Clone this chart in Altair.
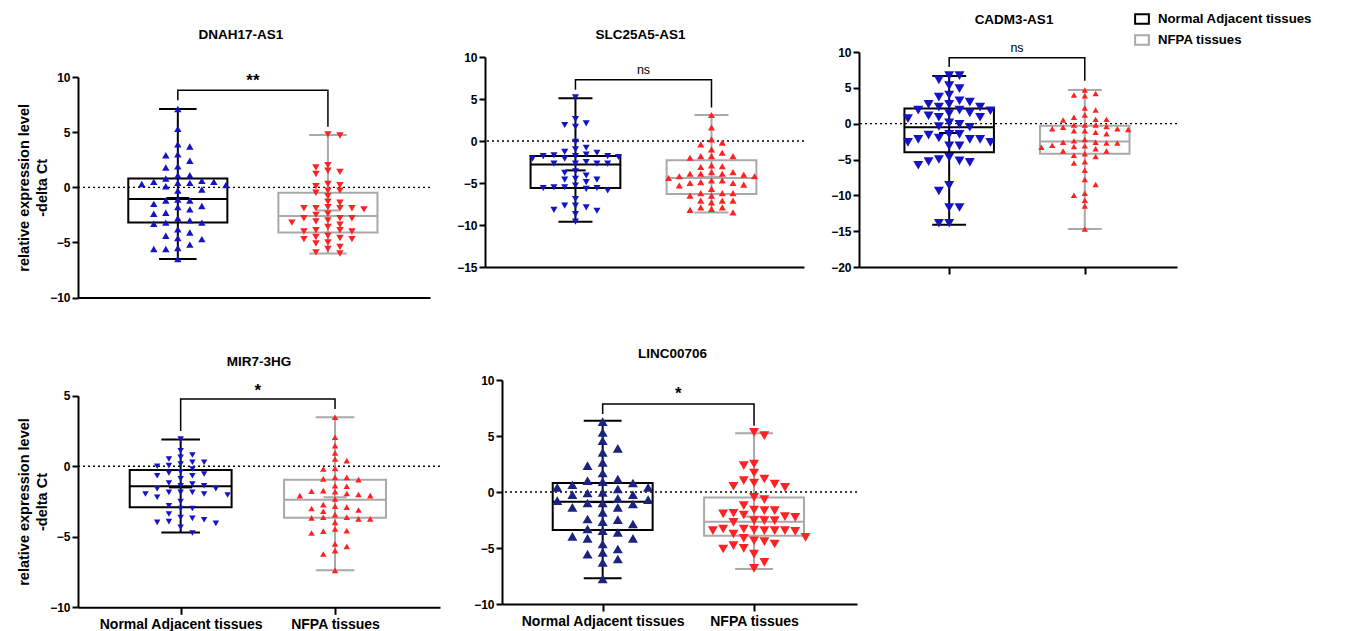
import altair as alt
import pandas as pd

GROUPS = ["Normal Adjacent tissues", "NFPA tissues"]
FONT = "Liberation Sans"

# ---------------- DNAH17-AS1 ----------------
dnah_title = "DNAH17-AS1"
dnah_normal = [7.1, 5.3, 2.9, 1.9, 0.8, 0.2, -1.1, -2.0, -3.0, -3.8, -4.6, -5.6, -6.5, 3.9, 3.7, 3.0,
               2.4, 1.8, 1.1, 1.1, 0.5, 0.6, 0.4, 0.4, 0.5, 0.3, 0.1, -0.2, -0.3, -1.2, -1.2, -1.5,
               -1.8, -1.7, -2.3, -2.4, -2.8, -3.3, -3.2, -3.2, -4.1, -4.4, -4.7, -5.2, -5.5, -5.6]
dnah_nfpa = [4.7, 4.8, 1.8, 2.0, 1.2, 1.4, 1.5, 0.2, 0.3, 0.1, -0.5, -0.3, -0.3, -0.8, -1.3, -1.9,
             -1.9, -2.0, -1.4, -1.9, -1.8, -1.9, -2.5, -2.4, -2.8, -2.8, -2.8, -3.0, -3.2, -3.1, -3.6,
             -3.4, -3.9, -3.9, -4.0, -4.0, -4.4, -4.5, -4.6, -4.7, -5.1, -5.0, -4.7, -5.4, -5.6, -5.9, -6.0]
dnah_box_normal = [-6.5, -3.2, -1.05, 0.8, 7.1]      # min, q1, median, q3, max
dnah_box_nfpa = [-6.0, -4.1, -2.6, -0.5, 4.75]
dnah_mean = [-0.97, -2.1]
dnah_bracket = [8.8, 7.9, 5.5]                         # bar, left end, right end
dnah_sig = "**"
dnah_sig_y = 9.6
dnah_ydomain = [-10, 10]
dnah_yticks = [10, 5, 0, -5, -10]

# ---------------- SLC25A5-AS1 ----------------
slc_title = "SLC25A5-AS1"
slc_normal = [5.2, 2.6, 1.7, -0.1, -0.8, -1.8, -2.7, -3.8, -4.6, -5.6, -6.9, -7.7, -8.7, -9.6, 1.9,
              2.1, -1.4, -2.1, -1.6, -1.0, -1.8, -2.1, -1.7, -1.3, -1.9, -1.8, -2.5, -2.7, -2.7, -2.7,
              -4.1, -4.5, -4.6, -3.6, -4.9, -5.6, -5.5, -5.9, -5.3, -5.7, -5.5, -8.2, -7.7, -8.3, -7.9]
slc_nfpa = [3.1, 1.6, -0.4, -1.4, -3.0, -3.7, -4.7, -5.3, -6.2, -7.1, -8.1, 0.2, -0.2, -1.0, -1.8,
            -1.8, -2.0, -1.8, -2.9, -3.1, -3.9, -3.7, -3.9, -4.0, -4.2, -4.4, -4.2, -3.9, -4.7, -5.2,
            -5.0, -5.0, -4.9, -5.7, -6.5, -6.2, -6.2, -6.5, -7.1, -7.1, -7.3, -8.2, -7.9, -7.9, -8.5]
slc_box_normal = [-9.6, -5.6, -2.8, -1.8, 5.1]
slc_box_nfpa = [-8.5, -6.3, -4.4, -2.3, 3.1]
slc_mean = [-3.5, -4.3]
slc_bracket = [7.3, 6.1, 4.0]
slc_sig = "ns"
slc_sig_y = 8.4
slc_ydomain = [-15, 10]
slc_yticks = [10, 5, 0, -5, -10, -15]

# ---------------- CADM3-AS1 ----------------
cadm_title = "CADM3-AS1"
cadm_normal = [6.7, 4.9, 2.7, 1.4, -0.1, -1.5, -3.1, -5.3, -9.4, -11.7, -11.7, -13.9, -13.9, 6.7,
               6.1, 5.3, 4.0, 3.7, 3.2, 3.0, 2.3, 2.7, 2.3, 1.9, 1.8, 1.9, 1.5, 1.1, 0.9, 0.9, 0.7,
               -0.5, -0.4, 0.1, -1.5, -2.6, -2.2, -2.2, -2.0, -1.6, -3.1, -2.6, -2.2, -5.0, -4.7,
               -5.8, -5.4, -5.2, -8.6]
cadm_nfpa = [4.2, 4.0, 4.7, 3.9, 2.2, 1.9, 1.2, 0.5, 0.6, 0.9, 0.6, -0.2, -0.5, -0.4, -0.2, -0.2,
             -1.0, -0.8, -0.7, -0.7, -1.2, -1.0, -1.4, -2.6, -2.2, -2.4, -2.6, -2.7, -2.7, -3.2,
             -3.3, -3.1, -3.0, -3.5, -3.8, -3.8, -4.2, -4.4, -4.6, -5.5, -5.3, -6.5, -7.8, -8.5,
             -9.7, -10.0, -10.7, -11.5, -14.7]
cadm_box_normal = [-14.1, -4.0, -0.5, 2.1, 6.65]
cadm_box_nfpa = [-14.7, -4.2, -2.5, -0.3, 4.7]
cadm_mean = [-1.3, -2.4]
cadm_bracket = [9.2, 7.9, 6.0]
cadm_sig = "ns"
cadm_sig_y = 10.5
cadm_ydomain = [-20, 10]
cadm_yticks = [10, 5, 0, -5, -10, -15, -20]

# ---------------- MIR7-3HG ----------------
mir_title = "MIR7-3HG"
mir_normal = [1.92, 0.28, -0.2, -0.67, -1.26, -1.97, -2.8, -3.39, -3.98, 1.1, 0.63, 0.16, -0.55,
              -1.6, -2.04, -2.5, -3.0, -4.05, -4.73, 0.51, 0.0, -0.48, -1.85, -3.63, -0.67, -1.38,
              -1.85, -3.79, 0.8, 0.28, -0.39, -1.19, -1.6, -2.2, -3.0, -3.7, -4.33, 0.04, -0.9,
              -1.85, -3.93, -1.38, -1.97]
mir_nfpa = [3.47, 2.05, 1.46, 0.94, -0.9, -1.73, -2.32, -2.84, -3.62, -4.57, -5.68, -6.22, -7.38,
            0.51, 0.4, -0.15, -0.2, -0.79, -0.79, -0.95, -1.42, -1.38, -1.8, -1.93, -1.77, -2.0,
            -2.08, -2.08, -2.72, -2.9, -3.0, -3.1, -3.19, -3.43, -3.62, -3.73, -3.73, -3.66, -3.98,
            -4.45, -4.73, -4.6, -5.5, -5.98]
mir_box_normal = [-4.7, -2.9, -1.42, -0.27, 1.9]
mir_box_nfpa = [-7.37, -3.65, -2.37, -0.95, 3.47]
mir_mean = [-1.5, -2.2]
mir_bracket = [4.76, 2.5, 4.05]
mir_sig = "*"
mir_sig_y = 5.35
mir_ydomain = [-10, 5]
mir_yticks = [5, 0, -5, -10]

# ---------------- LINC00706 ----------------
linc_title = "LINC00706"
linc_normal = [6.28, 5.33, 3.54, 2.35, 0.92, -0.03, -1.37, -2.41, -3.45, -5.39, -6.28, -7.77, 4.58,
               3.9, 2.65, 1.7, 0.8, -0.24, -0.98, -1.82, -2.86, -4.14, -5.09, -5.98, 1.01, 0.42,
               -0.68, -0.09, -0.98, 0.65, -0.24, -1.07, 0.42, -0.57, -1.37, -2.47, -3.96, 1.16,
               0.27, -0.77, -3.3, -4.14, -2.65, -3.6, -4.64, -5.54]
linc_nfpa = [5.33, 5.03, 2.5, 2.35, 1.16, 1.7, 1.01, 0.8, 0.71, 0.51, 0.42, -0.68, -0.48, -1.22,
             -1.61, -1.9, -1.67, -1.67, -1.96, -2.56, -2.56, -2.2, -2.26, -2.05, -2.71, -2.56,
             -3.45, -3.45, -3.45, -3.3, -3.75, -3.3, -3.45, -3.51, -3.39, -4.05, -4.35, -4.43,
             -4.79, -4.14, -4.64, -5.09, -5.03, -5.54, -6.28, -6.82]
linc_box_normal = [-7.7, -3.39, -0.86, 0.8, 6.37]
linc_box_nfpa = [-6.88, -3.9, -2.65, -0.48, 5.24]
linc_mean = [-0.9, -2.2]
linc_bracket = [7.86, 6.96, 5.92]
linc_sig = "*"
linc_sig_y = 8.75
linc_ydomain = [-10, 10]
linc_yticks = [10, 5, 0, -5, -10]

# ---------------- styles ----------------
BLUE = "#1414c4"
NAVY = "#1b237e"
RED = "#ff2222"
BOX_COLORS = ["#000000", "#a9a9a9"]
XDOMAIN = [-0.665, 1.68]
YTITLE = ["relative expression level", "-delta Ct"]

LEGEND = alt.Legend(
    title=None, orient="none", legendX=1056, legendY=-41,
    symbolType="M-1,-0.7H1V0.7H-1Z", symbolSize=190, symbolStrokeWidth=2,
    symbolFillColor="white", labelFont=FONT, labelFontSize=13.2, labelFontWeight="bold",
    labelColor="black", rowPadding=3, labelOffset=8,
)


def swarm(values, d):
    """Greedy beeswarm: returns an integer column slot for every value."""
    order = sorted(range(len(values)), key=lambda i: -values[i])
    placed = {}
    slots = [0] * len(values)
    for i in order:
        v = values[i]
        cands = [0]
        for k in range(1, 30):
            a, b = len(placed.get(k, [])), len(placed.get(-k, []))
            cands += [k, -k] if a <= b else [-k, k]
        for c in cands:
            if all(abs(v - u) >= d for u in placed.get(c, [])):
                slots[i] = c
                placed.setdefault(c, []).append(v)
                break
    return slots


def make_panel(title, normal, nfpa, box_n, box_f, means, bracket, sig, sig_y, ydom, yticks, st):
    xscale = alt.Scale(domain=XDOMAIN, nice=False, zero=False)
    yscale = alt.Scale(domain=ydom, range=[st["h"], st["ytop"]], nice=False, zero=False)
    xa = dict(values=[0, 1], domainWidth=2, domainColor="black", grid=False, title=None,
              labelFlush=False, labelOverlap=False)
    if st["xmode"] == "none":
        xa.update(ticks=False, labels=False)
    elif st["xmode"] == "ticks":
        xa.update(ticks=True, tickSize=7, tickWidth=2, tickColor="black", labels=False)
    else:
        xa.update(ticks=True, tickSize=7, tickWidth=2, tickColor="black", labels=True,
                  labelExpr="datum.value == 0 ? '%s' : '%s'" % (GROUPS[0], GROUPS[1]),
                  labelFont=FONT, labelFontSize=14, labelFontWeight="bold",
                  labelColor="black", labelPadding=3)
    xaxis = alt.Axis(**xa)
    ya = dict(values=yticks, domainWidth=2, domainColor="black", tickSize=6, tickWidth=2,
              tickColor="black", grid=False, labelFont=FONT, labelFontSize=12,
              labelFontWeight="bold", labelColor="black", labelPadding=2, labelFlush=False,
              labelOverlap=False, format="d")
    if st.get("ytitle"):
        ya.update(title=YTITLE, titleFont=FONT, titleFontSize=14.5, titleFontWeight="bold",
                  titleColor="black", titlePadding=0, titleLineHeight=18)
    else:
        ya.update(title=None)
    yaxis = alt.Axis(**ya)

    def X(f):
        return alt.X(f, type="quantitative", scale=xscale, axis=xaxis)

    def Y(f):
        return alt.Y(f, type="quantitative", scale=yscale, axis=yaxis)

    stroke = alt.Stroke("grp:N", scale=alt.Scale(domain=GROUPS, range=BOX_COLORS), legend=LEGEND)

    bw, cw, mw = 0.33, 0.125, 0.075
    seg, rect = [], []
    for gi, (b, mu) in enumerate(zip([box_n, box_f], means)):
        g = GROUPS[gi]
        mn, q1, med, q3, mx = b
        seg.append(dict(grp=g, x=gi, x2=gi, y=mn, y2=mx))
        seg.append(dict(grp=g, x=gi - cw, x2=gi + cw, y=mn, y2=mn))
        seg.append(dict(grp=g, x=gi - cw, x2=gi + cw, y=mx, y2=mx))
        seg.append(dict(grp=g, x=gi - bw, x2=gi + bw, y=med, y2=med))
        seg.append(dict(grp=g, x=gi - mw, x2=gi + mw, y=mu, y2=mu))
        rect.append(dict(grp=g, x=gi - bw, x2=gi + bw, y=q1, y2=q3))

    zero = alt.Chart(pd.DataFrame({"y": [0]})).mark_rule(
        strokeDash=[2, 3], color="black", strokeWidth=1.3).encode(y=Y("y"))
    rules = alt.Chart(pd.DataFrame(seg)).mark_rule(strokeWidth=2).encode(
        x=X("x"), x2="x2", y=Y("y"), y2="y2", stroke=stroke)
    boxes = alt.Chart(pd.DataFrame(rect)).mark_rect(
        fill="transparent", strokeWidth=2).encode(
        x=X("x"), x2="x2", y=Y("y"), y2="y2", stroke=stroke)

    layers = [zero, rules, boxes]
    for gi, vals in enumerate([normal, nfpa]):
        slots = swarm(vals, st["d"][gi])
        df = pd.DataFrame({"x": [gi + s * st["step"][gi] for s in slots], "y": vals})
        layers.append(alt.Chart(df).mark_point(
            shape=st["shape"][gi], filled=True, size=st["size"][gi], color=st["color"][gi],
            opacity=1, strokeWidth=0).encode(x=X("x"), y=Y("y")))

    top, left_end, right_end = bracket
    br = pd.DataFrame({"x": [0, 0, 1, 1], "y": [left_end, top, top, right_end], "o": [0, 1, 2, 3]})
    layers.append(alt.Chart(br).mark_line(color="black", strokeWidth=1.5).encode(
        x=X("x"), y=Y("y"), order="o:O"))
    star = sig != "ns"
    layers.append(alt.Chart(pd.DataFrame({"x": [0.5], "y": [sig_y], "t": [sig]})).mark_text(
        font=FONT, fontSize=17 if star else 12.5, fontWeight="bold" if star else "normal",
        color="#000000", baseline="middle", align="center").encode(
        x=X("x"), y=Y("y"), text="t:N"))

    tkw = dict(text=title, font=FONT, fontSize=13.5, fontWeight="bold", color="black",
               anchor="middle", offset=st["toff"])
    if st.get("tdx"):
        tkw["dx"] = st["tdx"]
    return alt.layer(*layers).properties(
        width=st["w"], height=st["h"], title=alt.TitleParams(**tkw))


p1 = make_panel(dnah_title, dnah_normal, dnah_nfpa, dnah_box_normal, dnah_box_nfpa, dnah_mean,
                dnah_bracket, dnah_sig, dnah_sig_y, dnah_ydomain, dnah_yticks,
                dict(w=352, h=245.6, ytop=25, xmode="none", ytitle=True, toff=11, tdx=-13,
                     d=[0.62, 0.5], step=[0.08, 0.08],
                     shape=["triangle-up", "triangle-down"], size=[55, 55], color=[BLUE, RED]))
p2 = make_panel(slc_title, slc_normal, slc_nfpa, slc_box_normal, slc_box_nfpa, slc_mean,
                slc_bracket, slc_sig, slc_sig_y, slc_ydomain, slc_yticks,
                dict(w=319, h=215, ytop=5, xmode="none", toff=10, tdx=-4,
                     d=[0.75, 0.75], step=[0.079, 0.079],
                     shape=["triangle-down", "triangle-up"], size=[50, 50], color=[BLUE, RED]))
p3 = make_panel(cadm_title, cadm_normal, cadm_nfpa, cadm_box_normal, cadm_box_nfpa, cadm_mean,
                cadm_bracket, cadm_sig, cadm_sig_y, cadm_ydomain, cadm_yticks,
                dict(w=318, h=215, ytop=0, xmode="ticks", toff=16, tdx=-4,
                     d=[1.25, 0.8], step=[0.076, 0.08],
                     shape=["triangle-down", "triangle-up"], size=[100, 40], color=[BLUE, RED]))
p4 = make_panel(mir_title, mir_normal, mir_nfpa, mir_box_normal, mir_box_nfpa, mir_mean,
                mir_bracket, mir_sig, mir_sig_y, mir_ydomain, mir_yticks,
                dict(w=362, h=227.3, ytop=15.7, xmode="labels", ytitle=True, toff=12,
                     d=[0.45, 0.42], step=[0.076, 0.076],
                     shape=["triangle-down", "triangle-up"], size=[42, 42], color=[BLUE, RED]))
p5 = make_panel(linc_title, linc_normal, linc_nfpa, linc_box_normal, linc_box_nfpa, linc_mean,
                linc_bracket, linc_sig, linc_sig_y, linc_ydomain, linc_yticks,
                dict(w=355, h=224, ytop=0, xmode="labels", toff=13.5, tdx=-7,
                     d=[0.75, 0.8], step=[0.10, 0.068],
                     shape=["triangle-up", "triangle-down"], size=[100, 100], color=[NAVY, RED]))

row1 = alt.hconcat(p1, p2, p3, spacing=24)
row2 = alt.hconcat(p4, p5, spacing=31)

chart = alt.vconcat(row1, row2, spacing=41).resolve_scale(
    stroke="shared").resolve_legend(stroke="shared").properties(
    padding={"left": 8, "top": 3, "right": 5, "bottom": 0}
).configure(font=FONT, view=alt.ViewConfig(stroke="transparent"))

chart.save("out.html", embed_options={"renderer": "svg", "actions": False})
